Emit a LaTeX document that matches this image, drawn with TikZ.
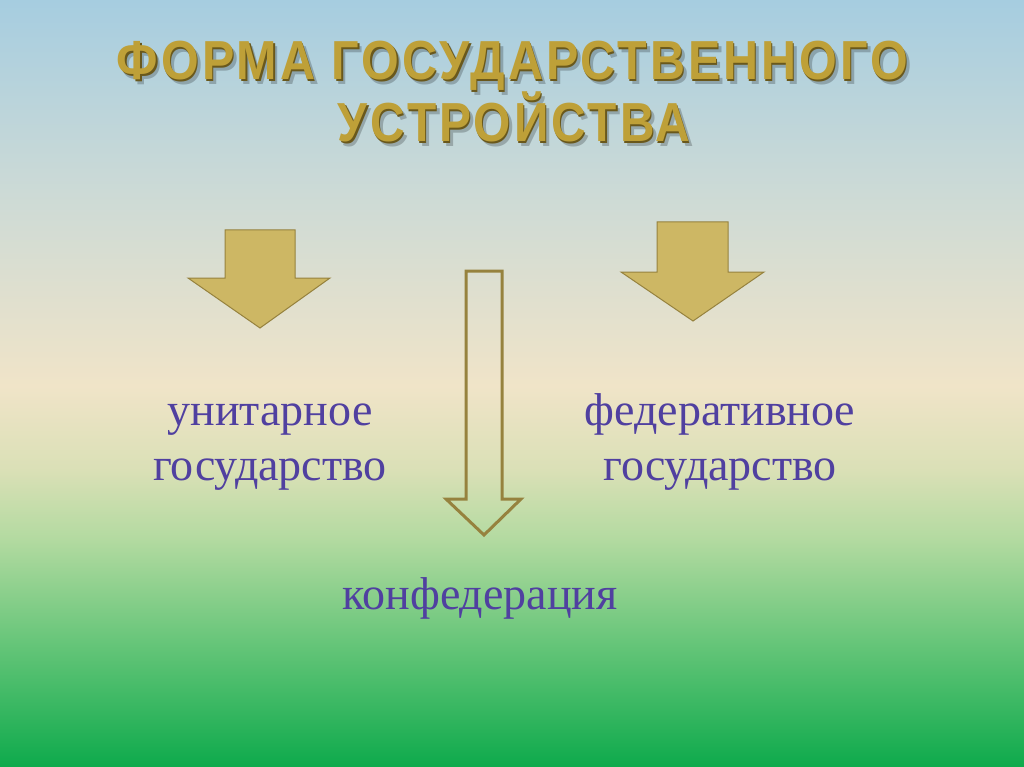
\documentclass[tikz,border=0pt]{standalone}
\usepackage{fontspec}
\usepackage{graphicx}
\setmainfont{Liberation Serif}
\newfontfamily\titlefont[FakeStretch=0.8, LetterSpace=5]{Liberation Sans}
\definecolor{bgA}{RGB}{166,205,224}
\definecolor{bgB}{RGB}{204,218,214}
\definecolor{bgC}{RGB}{240,228,200}
\definecolor{bgD}{RGB}{218,224,182}
\definecolor{bgE}{RGB}{178,218,160}
\definecolor{bgF}{RGB}{104,198,122}
\definecolor{bgG}{RGB}{14,170,76}
\definecolor{goldtxt}{RGB}{190,160,56}
\definecolor{golddark}{RGB}{105,88,28}
\definecolor{goldfill}{RGB}{205,183,100}
\definecolor{goldline}{RGB}{150,130,62}
\definecolor{txtcol}{RGB}{80,64,160}
\newcommand\tline[2]{\resizebox{#1}{\height}{\titlefont\bfseries\fontsize{55}{60}\selectfont #2}}
\tikzset{
  blockarrow/.style={fill=goldfill, draw=goldline, line width=1pt, line join=miter},
  hollowarrow/.style={draw=goldline, line width=3pt, line join=miter},
  bodytext/.style={anchor=base, inner sep=0pt, text=txtcol, font=\fontsize{46}{55}\selectfont, align=center},
  titletext/.style={anchor=base, inner sep=0pt}
}
\begin{document}
\begin{tikzpicture}[x=1pt,y=-1pt]
\useasboundingbox (0,0) rectangle (1024,767);
% background gradient
\shade[top color=bgA, bottom color=bgB] (0,0) rectangle (1024,190.5);
\shade[top color=bgB, bottom color=bgC] (0,190) rectangle (1024,386.5);
\shade[top color=bgC, bottom color=bgD] (0,386) rectangle (1024,470.5);
\shade[top color=bgD, bottom color=bgE] (0,470) rectangle (1024,540.5);
\shade[top color=bgE, bottom color=bgF] (0,540) rectangle (1024,640.5);
\shade[top color=bgF, bottom color=bgG] (0,640) rectangle (1024,767);
% title (shadow, dark edge, gold face)
\foreach \dx/\dy/\col/\op in {4/5/black/0.22, 1.2/1.2/golddark/1, 0/0/goldtxt/1}{
  \node[titletext, text=\col, opacity=\op] at (512.5+\dx,80+\dy) {\tline{791pt}{ФОРМА ГОСУДАРСТВЕННОГО}};
  \node[titletext, text=\col, opacity=\op] at (514+\dx,142+\dy) {\tline{352pt}{УСТРОЙСТВА}};
}
% arrows
\path[blockarrow] (225,230) -- (295,230) -- (295,278) -- (330,278) -- (260,328) -- (188,278) -- (225,278) -- cycle;
\path[blockarrow] (657,222) -- (728,222) -- (728,272) -- (764,272) -- (693,321) -- (621,272) -- (657,272) -- cycle;
\path[hollowarrow] (466,271) -- (502,271) -- (502,499) -- (521,499) -- (484,535) -- (446,499) -- (466,499) -- cycle;
% labels
\node[bodytext] (u1) at (270,425) {унитарное};
\node[bodytext] (u2) at (270,480) {государство};
\node[bodytext] (f1) at (720,425) {федеративное};
\node[bodytext] (f2) at (720,480) {государство};
\node[bodytext] (k) at (480,609) {конфедерация};
\end{tikzpicture}
\end{document}
